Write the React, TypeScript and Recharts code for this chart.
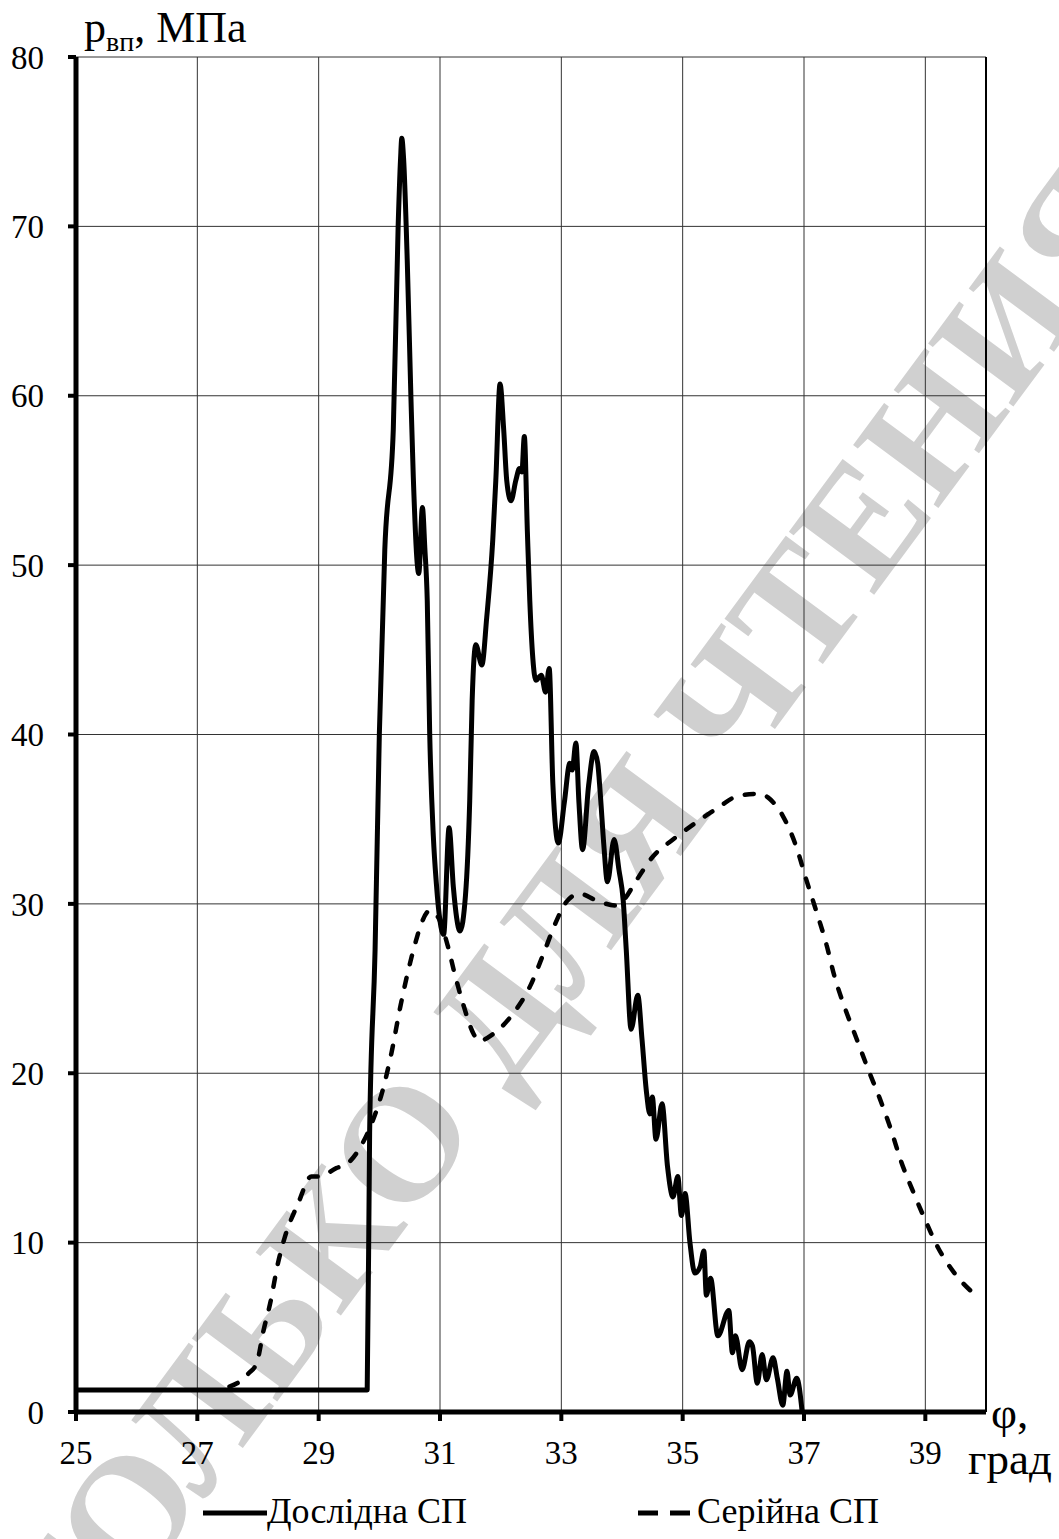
import React from 'react';
import { LineChart, Line, XAxis, YAxis, CartesianGrid, Legend, ReferenceLine } from 'recharts';

// Дослідна СП (solid) — phi, deg / p, MPa
const expPhi = [
  25.0, 29.8, 29.84, 29.93, 30.0, 30.09, 30.23, 30.31, 30.35, 30.37, 30.4, 30.46, 30.52, 30.56, 30.65,
  30.71, 30.75, 30.79, 30.83, 30.89, 30.94, 31.0, 31.06, 31.15, 31.22, 31.33, 31.42, 31.49, 31.53,
  31.59, 31.69, 31.77, 31.87, 31.92, 31.99, 32.05, 32.1, 32.17, 32.25, 32.31, 32.35, 32.39, 32.44,
  32.48, 32.53, 32.58, 32.67, 32.74, 32.8, 32.86, 32.95, 33.05, 33.14, 33.18, 33.24, 33.29, 33.35,
  33.45, 33.54, 33.6, 33.64, 33.7, 33.76, 33.87, 33.95, 34.02, 34.07, 34.15, 34.26, 34.33, 34.4,
  34.46, 34.5, 34.56, 34.66, 34.75, 34.84, 34.92, 34.98, 35.04, 35.12, 35.2, 35.29, 35.35, 35.39,
  35.46, 35.58, 35.76, 35.82, 35.87, 35.98, 36.1, 36.15, 36.23, 36.31, 36.38, 36.49, 36.56, 36.65,
  36.72, 36.77, 36.88, 36.97,
];
const expP = [
  1.3, 1.3, 16.5, 27.3, 40.0, 50.9, 58.0, 70.0, 74.0, 75.2, 74.0, 68.0, 60.0, 55.2, 49.5,
  53.4, 51.0, 47.9, 40.1, 34.0, 31.2, 29.0, 28.2, 34.5, 31.0, 28.4, 30.5, 36.1, 42.0,
  45.3, 44.1, 46.9, 51.5, 55.0, 60.7, 58.0, 55.0, 53.8, 55.0, 55.7, 55.5, 57.6, 52.0,
  47.9, 44.5, 43.2, 43.5, 42.5, 43.9, 37.1, 33.6, 36.0, 38.3, 37.9, 39.5, 36.0, 33.2,
  37.0, 39.0, 38.3, 36.6, 33.5, 31.3, 33.8, 32.0, 30.2, 27.3, 22.6, 24.6, 22.0, 19.0,
  17.6, 18.6, 16.1, 18.2, 14.5, 12.7, 13.9, 11.6, 12.9, 10.0, 8.2, 8.6, 9.5, 6.9,
  7.9, 4.5, 6.0, 3.5, 4.5, 2.5, 4.15, 3.9, 1.7, 3.4, 1.9, 3.2, 2.0, 0.4,
  2.4, 1.0, 2.0, 0.0,
];

// Серійна СП (dashed)
const serPhi = [
  27.53, 27.7, 27.85, 27.98, 28.09, 28.2, 28.33, 28.44, 28.66, 28.88, 29.02, 29.29, 29.45, 29.68,
  29.87, 30.04, 30.2, 30.35, 30.61, 30.67, 30.83, 30.97, 31.13, 31.24, 31.38, 31.55, 31.64, 31.87,
  32.2, 32.48, 32.7, 32.89, 33.08, 33.3, 33.58, 33.9, 34.02, 34.24, 34.51, 34.84, 35.2, 35.55,
  35.94, 36.3, 36.4, 36.65, 36.87, 37.04, 37.2, 37.37, 37.5, 37.67, 37.86, 38.05, 38.25, 38.44,
  38.6, 38.8, 38.99, 39.21, 39.48, 39.86,
];
const serP = [
  1.5, 1.8, 2.3, 2.9, 4.8, 6.4, 8.8, 10.3, 12.3, 13.9, 13.9, 14.4, 14.6, 15.6,
  17.0, 18.8, 21.2, 24.0, 27.9, 28.6, 29.6, 29.2, 27.5, 25.9, 24.1, 22.35, 21.9, 22.3,
  23.5, 25.1, 27.0, 28.75, 30.1, 30.6, 30.2, 29.9, 30.2, 31.4, 32.8, 33.8, 34.75, 35.6,
  36.4, 36.5, 36.3, 35.2, 33.4, 31.4, 29.6, 27.6, 25.75, 23.9, 22.1, 20.3, 18.5, 16.6,
  14.8, 13.0, 11.4, 9.7, 8.2, 6.8,
];

const xTicks = [25, 27, 29, 31, 33, 35, 37, 39];
const yTicks = [0, 10, 20, 30, 40, 50, 60, 70, 80];

const expData = expPhi.map((x, i) => ({ x, y: expP[i] }));
const serData = serPhi.map((x, i) => ({ x, y: serP[i] }));

const FONT = '"Liberation Serif", "Times New Roman", serif';

const renderLegend = () => (
  <div style={{ position: 'relative', width: 1059, height: 50, fontFamily: FONT, fontSize: 36, color: '#000' }}>
    <svg width={64} height={10} style={{ position: 'absolute', left: 203, top: 24 }}>
      <line x1={0} y1={5} x2={64} y2={5} stroke="#000" strokeWidth={5} />
    </svg>
    <span style={{ position: 'absolute', left: 267, top: 9, lineHeight: '36px', whiteSpace: 'nowrap' }}>Дослідна СП</span>
    <svg width={54} height={10} style={{ position: 'absolute', left: 637, top: 24 }}>
      <line x1={1} y1={5} x2={53} y2={5} stroke="#000" strokeWidth={5} strokeDasharray="20 12" />
    </svg>
    <span style={{ position: 'absolute', left: 697, top: 9, lineHeight: '36px', whiteSpace: 'nowrap' }}>Серійна СП</span>
  </div>
);

export default function App() {
  return (
    <div style={{ position: 'absolute', left: 0, top: 0, width: 1059, height: 1539, background: '#fff', overflow: 'hidden' }}>
      {/* watermark behind the chart */}
      <div
        style={{
          position: 'absolute',
          left: 570,
          top: 915,
          transform: 'translate(-50%, -50%) rotate(-53.5deg)',
          fontFamily: FONT,
          fontWeight: 'bold',
          fontSize: 162,
          color: '#d0d0d0',
          whiteSpace: 'nowrap',
          lineHeight: 1,
        }}
      >
        ТОЛЬКО ДЛЯ ЧТЕНИЯ
      </div>
      <div style={{ position: 'absolute', left: 0, top: 0 }}>
        <LineChart
          width={1059}
          height={1539}
          margin={{ top: 57, right: 73, bottom: 5, left: 0 }}
          style={{ fontFamily: FONT }}
        >
          <CartesianGrid stroke="#333" strokeWidth={1} />
          <XAxis
            type="number"
            dataKey="x"
            domain={[25, 40]}
            ticks={xTicks}
            allowDataOverflow
            height={72}
            axisLine={{ stroke: '#000', strokeWidth: 5 }}
            tickLine={{ stroke: '#000', strokeWidth: 4 }}
            tickSize={9}
            tickMargin={20}
            tick={{ fill: '#000', fontSize: 33, fontFamily: FONT }}
            label={{
              content: () => (
                <g fontFamily={FONT} fontSize={45} fill="#000">
                  <text x={991} y={1428}>φ,</text>
                  <text x={968} y={1474}>град</text>
                </g>
              ),
            }}
          />
          <YAxis
            type="number"
            domain={[0, 80]}
            ticks={yTicks}
            width={76}
            axisLine={{ stroke: '#000', strokeWidth: 5 }}
            tickLine={{ stroke: '#000', strokeWidth: 4 }}
            tickSize={8}
            tickMargin={24}
            tick={{ fill: '#000', fontSize: 33, fontFamily: FONT }}
            label={{
              content: () => (
                <text x={84} y={42} fontFamily={FONT} fontSize={44} fill="#000">
                  р<tspan fontSize={28} dy={9}>вп</tspan>
                  <tspan dy={-9}>, МПа</tspan>
                </text>
              ),
            }}
          />
          <ReferenceLine x={40} stroke="#000" strokeWidth={2} />
          <Legend verticalAlign="bottom" content={renderLegend} wrapperStyle={{ top: 1484, left: 0, width: 1059, height: 50 }} />
          <Line
            data={serData}
            dataKey="y"
            name="Серійна СП"
            type="monotone"
            stroke="#000"
            strokeWidth={4.5}
            strokeDasharray="9 14"
            strokeLinecap="round"
            dot={false}
            isAnimationActive={false}
          />
          <Line
            data={expData}
            dataKey="y"
            name="Дослідна СП"
            type="monotone"
            stroke="#000"
            strokeWidth={5}
            strokeLinejoin="round"
            dot={false}
            isAnimationActive={false}
          />
        </LineChart>
      </div>
    </div>
  );
}
